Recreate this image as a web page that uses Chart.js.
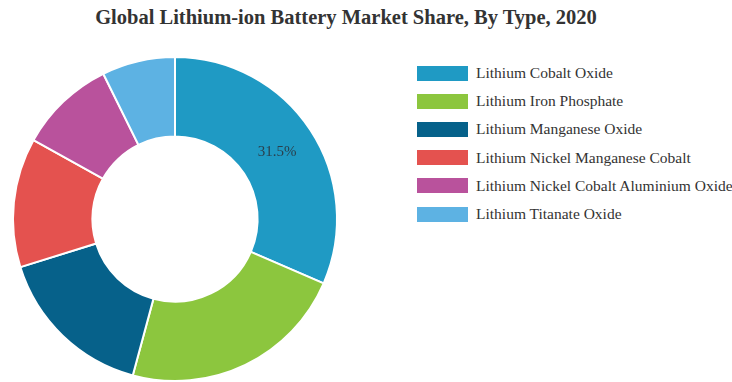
<!DOCTYPE html>
<html>
<head>
<meta charset="utf-8">
<script src="https://cdn.jsdelivr.net/npm/chart.js@4/dist/chart.umd.min.js"></script>
<style>
  html, body { margin: 0; padding: 0; background: #fff; }
  #wrap { position: relative; width: 732px; height: 382px; overflow: hidden; font-family: "Liberation Serif", "DejaVu Serif", serif; }
  #title { position: absolute; left: 0; top: 6px; width: 692px; text-align: center; font-weight: bold; font-size: 20.5px; color: #333; }
  #chartBox { position: absolute; left: 0; top: 56px; width: 350px; height: 326px; }
  #legend { position: absolute; left: 417px; top: 59px; margin: 0; padding: 0; list-style: none; }
  #legend li { height: 28.2px; display: flex; align-items: center; font-size: 15.5px; color: #333; white-space: nowrap; }
  #legend .sw { display: inline-block; width: 51px; height: 15px; margin-right: 8px; }
</style>
</head>
<body>
<div id="wrap">
  <div id="title"></div>
  <div id="chartBox"><canvas id="c" width="350" height="326"></canvas></div>
  <ul id="legend"></ul>
</div>
<script>
const chartTitle = 'Global Lithium-ion Battery Market Share, By Type, 2020';
const batteryTypes = [
  'Lithium Cobalt Oxide',
  'Lithium Iron Phosphate',
  'Lithium Manganese Oxide',
  'Lithium Nickel Manganese Cobalt',
  'Lithium Nickel Cobalt Aluminium Oxide',
  'Lithium Titanate Oxide'
];
const shareValues = [31.5, 22.7, 16.0, 12.9, 9.6, 7.3];
const sliceColors = ['#1f9ac4', '#8cc63e', '#06618a', '#e4524f', '#b9529c', '#5db2e3'];
// only the leading segment carries a printed share
const printedShares = [true, false, false, false, false, false];

document.getElementById('title').textContent = chartTitle;

const legendList = document.getElementById('legend');
batteryTypes.forEach((name, i) => {
  const li = document.createElement('li');
  const sw = document.createElement('span');
  sw.className = 'sw';
  sw.style.background = sliceColors[i];
  li.appendChild(sw);
  li.appendChild(document.createTextNode(name));
  legendList.appendChild(li);
});

const shareLabelPlugin = {
  id: 'shareLabels',
  afterDatasetsDraw(chart) {
    const ctx = chart.ctx;
    const meta = chart.getDatasetMeta(0);
    ctx.save();
    ctx.font = '15px "Liberation Serif", serif';
    ctx.fillStyle = '#2b3f4c';
    ctx.textAlign = 'center';
    ctx.textBaseline = 'middle';
    meta.data.forEach((arc, i) => {
      if (!printedShares[i]) return;
      const pos = arc.tooltipPosition();
      const v = chart.data.datasets[0].data[i];
      ctx.fillText(v.toFixed(1) + '%', pos.x, pos.y);
    });
    ctx.restore();
  }
};

new Chart(document.getElementById('c'), {
  type: 'doughnut',
  data: {
    labels: batteryTypes,
    datasets: [{
      data: shareValues,
      backgroundColor: sliceColors,
      borderColor: '#ffffff',
      borderWidth: 2
    }]
  },
  options: {
    responsive: false,
    devicePixelRatio: 1,
    animation: false,
    cutout: '51%',
    layout: { padding: 0 },
    plugins: {
      legend: { display: false },
      title: { display: false },
      tooltip: { enabled: false }
    }
  },
  plugins: [shareLabelPlugin]
});
</script>
</body>
</html>
